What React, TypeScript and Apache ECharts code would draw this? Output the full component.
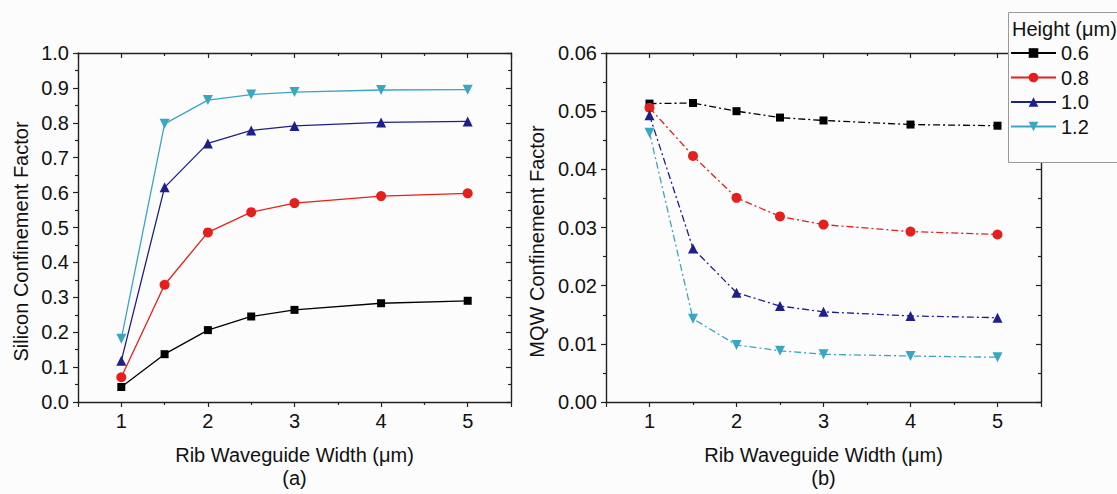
import React, { useEffect, useRef } from "react";
import * as echarts from "echarts";

const widths = [1, 1.5, 2, 2.5, 3, 4, 5];
const heights = ["0.6", "0.8", "1.0", "1.2"];
const silicon06 = [0.043, 0.137, 0.206, 0.245, 0.264, 0.283, 0.29];
const silicon08 = [0.071, 0.336, 0.486, 0.544, 0.57, 0.59, 0.598];
const silicon10 = [0.118, 0.615, 0.741, 0.778, 0.791, 0.801, 0.804];
const silicon12 = [0.181, 0.797, 0.865, 0.881, 0.888, 0.894, 0.895];
const mqw06 = [0.0513, 0.0514, 0.05, 0.0489, 0.0484, 0.0477, 0.0475];
const mqw08 = [0.0506, 0.0423, 0.0351, 0.0319, 0.0305, 0.0293, 0.0288];
const mqw10 = [0.0493, 0.0264, 0.0188, 0.0165, 0.0155, 0.0148, 0.0145];
const mqw12 = [0.0463, 0.0143, 0.0098, 0.0088, 0.0082, 0.0079, 0.0077];

const siliconSeries = [silicon06, silicon08, silicon10, silicon12];
const mqwSeries = [mqw06, mqw08, mqw10, mqw12];
const colors = ["#000000", "#e41f1c", "#1f1f8c", "#3aa6c3"];
const symbols = ["rect", "circle", "triangle", "triangle"];
const symbolRotates = [0, 0, 0, 180];
const symbolSizes = [8, 10, 10, 10];

const FONT = "Liberation Sans";
const AX = "#222";
const FS = 20;

function xAxes(gridIndex: number, title: string) {
  const common = {
    type: "value",
    gridIndex,
    min: 0.5,
    max: 5.5,
    splitLine: { show: false },
    axisLine: { show: true, onZero: false, lineStyle: { color: AX, width: 1.4 } },
  };
  return [
    {
      ...common,
      position: "bottom",
      name: title,
      nameLocation: "middle",
      nameGap: 41,
      nameTextStyle: { fontFamily: FONT, fontSize: FS, color: "#111", lineHeight: 23 },
      axisTick: { show: true, inside: false, length: 5, lineStyle: { color: AX, width: 1.2 } },
      minorTick: { show: true, splitNumber: 2, length: 3, lineStyle: { color: AX, width: 1.2 } },
      axisLabel: {
        margin: 9,
        fontFamily: FONT,
        fontSize: FS,
        color: "#111",
        formatter: (v: number) => (Number.isInteger(v) ? String(v) : ""),
      },
    },
    {
      ...common,
      position: "top",
      axisTick: { show: true, inside: true, length: 5, lineStyle: { color: AX, width: 1.2 } },
      minorTick: { show: true, splitNumber: 2, length: 3, lineStyle: { color: AX, width: 1.2 } },
      axisLabel: { show: false },
    },
  ];
}

function yAxes(gridIndex: number, title: string, max: number, interval: number, digits: number, gap: number) {
  const common = {
    type: "value",
    gridIndex,
    min: 0,
    max,
    interval,
    splitLine: { show: false },
    axisLine: { show: true, onZero: false, lineStyle: { color: AX, width: 1.4 } },
  };
  return [
    {
      ...common,
      position: "left",
      name: title,
      nameLocation: "middle",
      nameGap: gap,
      nameTextStyle: { fontFamily: FONT, fontSize: FS, color: "#111", padding: [0, 28, 0, 0] },
      axisTick: { show: true, inside: false, length: 5, lineStyle: { color: AX, width: 1.2 } },
      minorTick: { show: true, splitNumber: 2, length: 3, lineStyle: { color: AX, width: 1.2 } },
      axisLabel: {
        margin: 9,
        fontFamily: FONT,
        fontSize: FS,
        color: "#111",
        formatter: (v: number) => v.toFixed(digits),
      },
    },
    {
      ...common,
      position: "right",
      axisTick: { show: true, inside: true, length: 5, lineStyle: { color: AX, width: 1.2 } },
      minorTick: { show: true, splitNumber: 2, length: 3, lineStyle: { color: AX, width: 1.2 } },
      axisLabel: { show: false },
    },
  ];
}

export default function App() {
  const ref = useRef<HTMLDivElement>(null);
  useEffect(() => {
    if (!ref.current) return;
    const chart = echarts.init(ref.current, null, { renderer: "svg" });
    const series: any[] = [];
    heights.forEach((h, i) => {
      series.push({
        type: "line",
        name: h,
        xAxisIndex: 0,
        yAxisIndex: 0,
        data: widths.map((w, j) => [w, siliconSeries[i][j]]),
        symbol: symbols[i],
        symbolRotate: symbolRotates[i],
        symbolSize: symbolSizes[i],
        itemStyle: { color: colors[i] },
        lineStyle: { color: colors[i], width: 1.3, type: "solid" },
        z: 2 + i,
      });
    });
    heights.forEach((h, i) => {
      series.push({
        type: "line",
        name: h,
        xAxisIndex: 2,
        yAxisIndex: 2,
        data: widths.map((w, j) => [w, mqwSeries[i][j]]),
        symbol: symbols[i],
        symbolRotate: symbolRotates[i],
        symbolSize: symbolSizes[i],
        itemStyle: { color: colors[i] },
        lineStyle: { color: colors[i], width: 1.3, type: [7, 3, 2, 3] },
        z: 2 + i,
      });
    });
    chart.setOption({
      animation: false,
      backgroundColor: "#fcfcfc",
      grid: [
        { left: 78, right: 606, top: 53, bottom: 90 },
        { left: 606, right: 76, top: 53, bottom: 90 },
      ],
      xAxis: [
        ...xAxes(0, "Rib Waveguide Width (\u03bcm)\n(a)"),
        ...xAxes(1, "Rib Waveguide Width (\u03bcm)\n(b)"),
      ],
      yAxis: [
        ...yAxes(0, "Silicon Confinement Factor", 1, 0.1, 1, 47),
        ...yAxes(1, "MQW Confinement Factor", 0.06, 0.01, 2, 59),
      ],
      legend: {
        data: heights,
        orient: "vertical",
        left: 1010,
        top: 43,
        padding: 0,
        itemWidth: 45,
        itemHeight: 12,
        itemGap: 4.5,
        textStyle: { fontFamily: FONT, fontSize: FS, color: "#111", lineHeight: 20 },
        selectedMode: false,
        z: 10,
      },
      graphic: [
        {
          type: "rect",
          z: 9,
          shape: { x: 1008.5, y: 12.5, width: 120, height: 150 },
          style: { fill: "#fcfcfc", stroke: "#9a9a9a", lineWidth: 1 },
        },
        {
          type: "text",
          z: 10,
          x: 1012,
          y: 29,
          style: {
            text: "Height (\u03bcm)",
            fontFamily: FONT,
            fontSize: FS,
            fill: "#111",
            verticalAlign: "middle",
          },
        },
      ],
      series,
    });
    return () => chart.dispose();
  }, []);
  return <div ref={ref} style={{ position: "fixed", left: 0, top: 0, width: 1117, height: 494 }} />;
}
